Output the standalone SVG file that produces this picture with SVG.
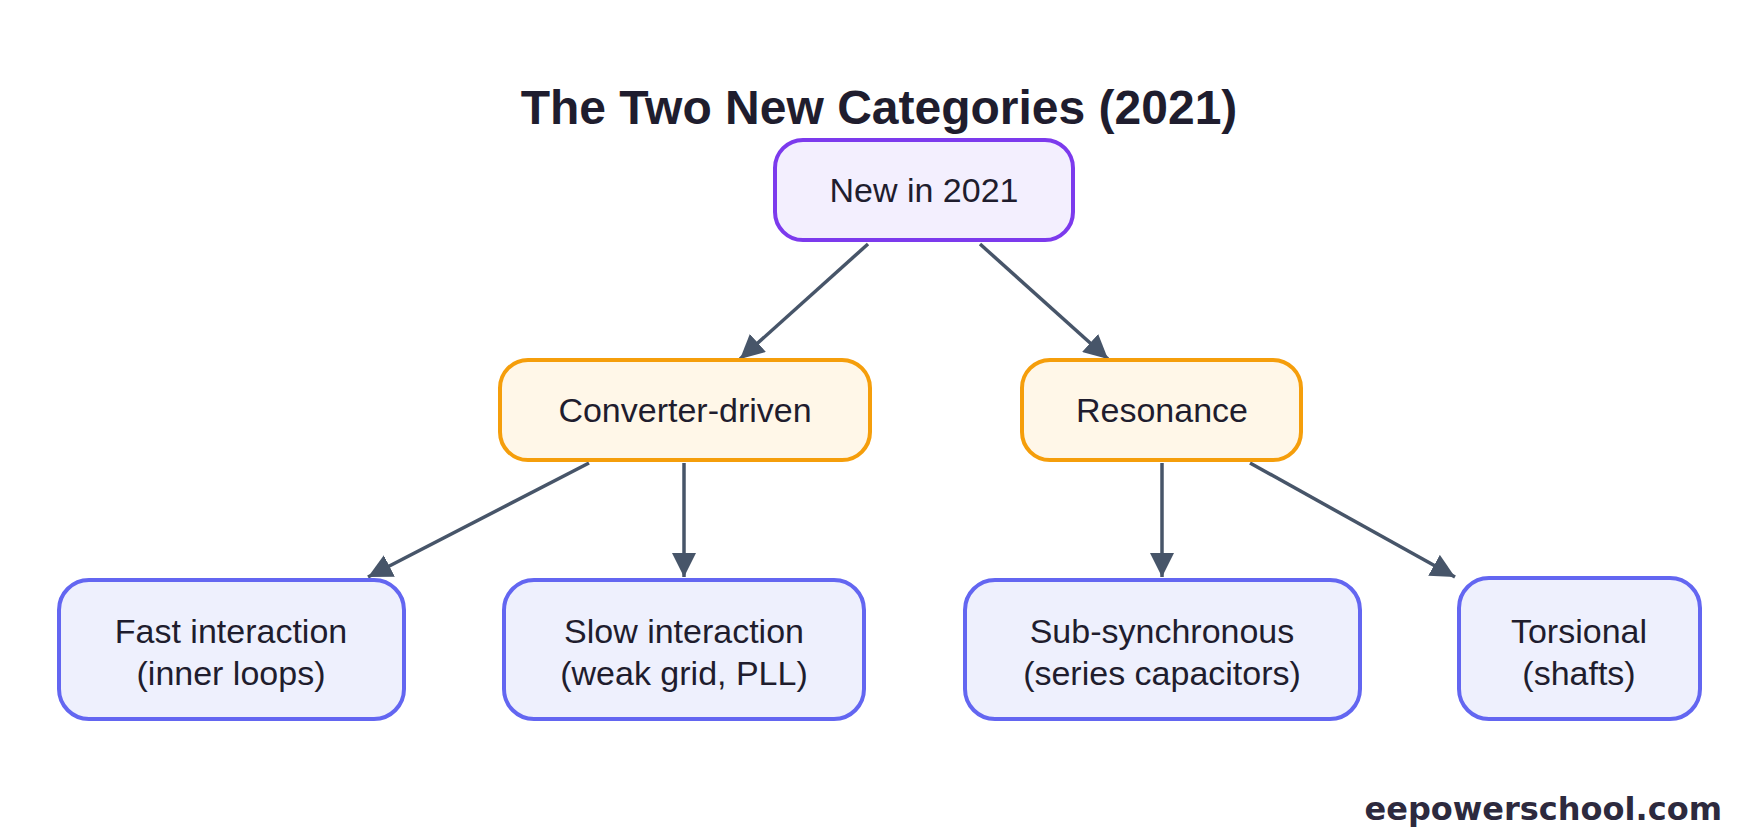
<svg xmlns="http://www.w3.org/2000/svg" width="1758" height="837" viewBox="0 0 1758 837">
<style>
.t{font-family:"Liberation Sans",Arial,sans-serif;font-size:34px;fill:#1f1d2e;text-anchor:middle}
.p{fill:#f3effe;stroke:#7c3aed;stroke-width:4}
.o{fill:#fff7e8;stroke:#f59e0b;stroke-width:4}
.b{fill:#eef0fd;stroke:#6366f1;stroke-width:4}
.e{stroke:#475569;stroke-width:3.5;fill:none;marker-end:url(#a)}
</style>
<defs><marker id="a" viewBox="0 0 10 10" refX="10" refY="5" markerWidth="7" markerHeight="7" markerUnits="userSpaceOnUse" orient="auto"><path d="M0,0L10,5L0,10z" fill="#475569" transform="scale(1)"/></marker></defs>
<rect width="1758" height="837" fill="#fff"/>
<text x="879" y="124" style="font-family:'Liberation Sans',Arial,sans-serif;font-weight:bold;font-size:48px;fill:#1f1d2e;text-anchor:middle">The Two New Categories (2021)</text>
<g id="edges">
<defs><marker id="m" viewBox="0 0 10 10" refX="10" refY="5" markerWidth="24" markerHeight="24" markerUnits="userSpaceOnUse" orient="auto"><path d="M0,0L10,5L0,10z" fill="#475569"/></marker></defs>
<path d="M868,244L740,359" stroke="#475569" stroke-width="3.5" marker-end="url(#m)"/>
<path d="M980,244L1108,359" stroke="#475569" stroke-width="3.5" marker-end="url(#m)"/>
<path d="M589,463L368,577" stroke="#475569" stroke-width="3.5" marker-end="url(#m)"/>
<path d="M684,463L684,577" stroke="#475569" stroke-width="3.5" marker-end="url(#m)"/>
<path d="M1162,463L1162,577" stroke="#475569" stroke-width="3.5" marker-end="url(#m)"/>
<path d="M1250,463L1455,577" stroke="#475569" stroke-width="3.5" marker-end="url(#m)"/>
</g>
<g id="n0"><rect class="p" x="775" y="140" width="298" height="100" rx="28"/><text class="t" x="924" y="202">New in 2021</text></g>
<g id="n1"><rect class="o" x="500" y="360" width="370" height="100" rx="28"/><text class="t" x="685" y="422">Converter-driven</text></g>
<g id="n2"><rect class="o" x="1022" y="360" width="279" height="100" rx="28"/><text class="t" x="1162" y="422">Resonance</text></g>
<g id="n3"><rect class="b" x="59" y="580" width="345" height="139" rx="30"/><text class="t" x="231" y="643">Fast interaction</text><text class="t" x="231" y="685">(inner loops)</text></g>
<g id="n4"><rect class="b" x="504" y="580" width="360" height="139" rx="30"/><text class="t" x="684" y="643">Slow interaction</text><text class="t" x="684" y="685">(weak grid, PLL)</text></g>
<g id="n5"><rect class="b" x="965" y="580" width="395" height="139" rx="30"/><text class="t" x="1162" y="643">Sub-synchronous</text><text class="t" x="1162" y="685">(series capacitors)</text></g>
<g id="n6"><rect class="b" x="1459" y="578" width="241" height="141" rx="30"/><text class="t" x="1579" y="643">Torsional</text><text class="t" x="1579" y="685">(shafts)</text></g>
<text x="1722" y="820" style="font-family:'DejaVu Sans',sans-serif;font-weight:bold;font-size:32px;fill:#2d2a3e;text-anchor:end">eepowerschool.com</text>
</svg>
